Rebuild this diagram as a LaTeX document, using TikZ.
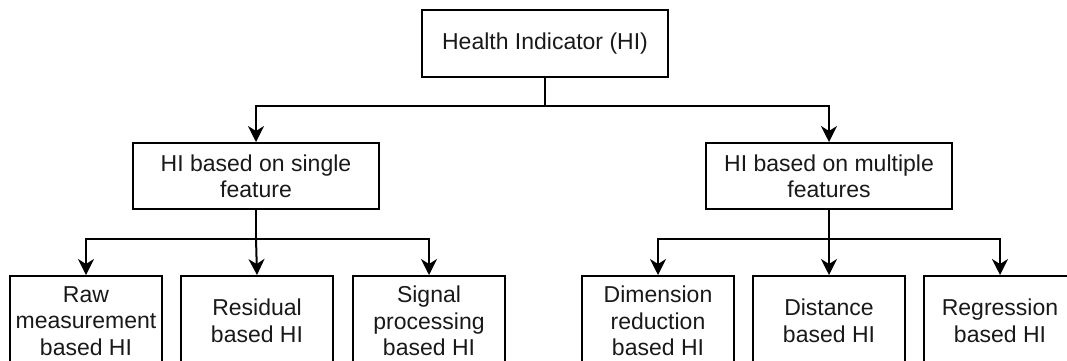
\documentclass[tikz,border=0pt]{standalone}
\usepackage{fontspec}
\setmainfont{Liberation Sans}
\usetikzlibrary{arrows.meta}
\begin{document}
\begin{tikzpicture}[x=1pt,y=-1pt,
  box/.style={draw, line width=2pt, align=center, inner sep=0pt,
    font=\fontsize{23pt}{26pt}\selectfont, text=black!90},
  midbox/.style={box, minimum width=246pt, minimum height=66pt},
  leafbox/.style={box, minimum width=152pt, minimum height=90pt,
    font=\fontsize{23pt}{26.5pt}\selectfont},
  conn/.style={line width=2pt, -{Stealth[length=16pt,width=16pt,inset=5pt]}},
  trunk/.style={line width=2pt}]
\useasboundingbox (0,0) rectangle (1067,360);
\node[midbox, minimum height=67pt] (top) at (545,43.5) {Health Indicator (HI)};
\node[midbox] (ml) at (256,176) {HI based on single\\feature};
\node[midbox] (mr) at (829,176) {HI based on multiple\\features};
\node[leafbox] (b1) at (86,321) {Raw\\measurement\\based HI};
\node[leafbox] (b2) at (257,321) {Residual\\based HI};
\node[leafbox] (b3) at (429,321) {Signal\\processing\\based HI};
\node[leafbox] (b4) at (658,321) {Dimension\\reduction\\based HI};
\node[leafbox] (b5) at (829,321) {Distance\\based HI};
\node[leafbox] (b6) at (1000,321) {Regression\\based HI};
\coordinate (j0) at (545,106);
\coordinate (j1) at (256,238.5);
\coordinate (j2) at (829,238.5);
\draw[trunk] (top.south) -- (j0);
\draw[conn] (j0) -| (ml.north);
\draw[conn] (j0) -| (mr.north);
\draw[trunk] (ml.south) -- (j1);
\draw[conn] (j1) -| (b1.north);
\draw[conn] (j1) -- (b2.north);
\draw[conn] (j1) -| (b3.north);
\draw[trunk] (mr.south) -- (j2);
\draw[conn] (j2) -| (b4.north);
\draw[conn] (j2) -- (b5.north);
\draw[conn] (j2) -| (b6.north);
\end{tikzpicture}
\end{document}
